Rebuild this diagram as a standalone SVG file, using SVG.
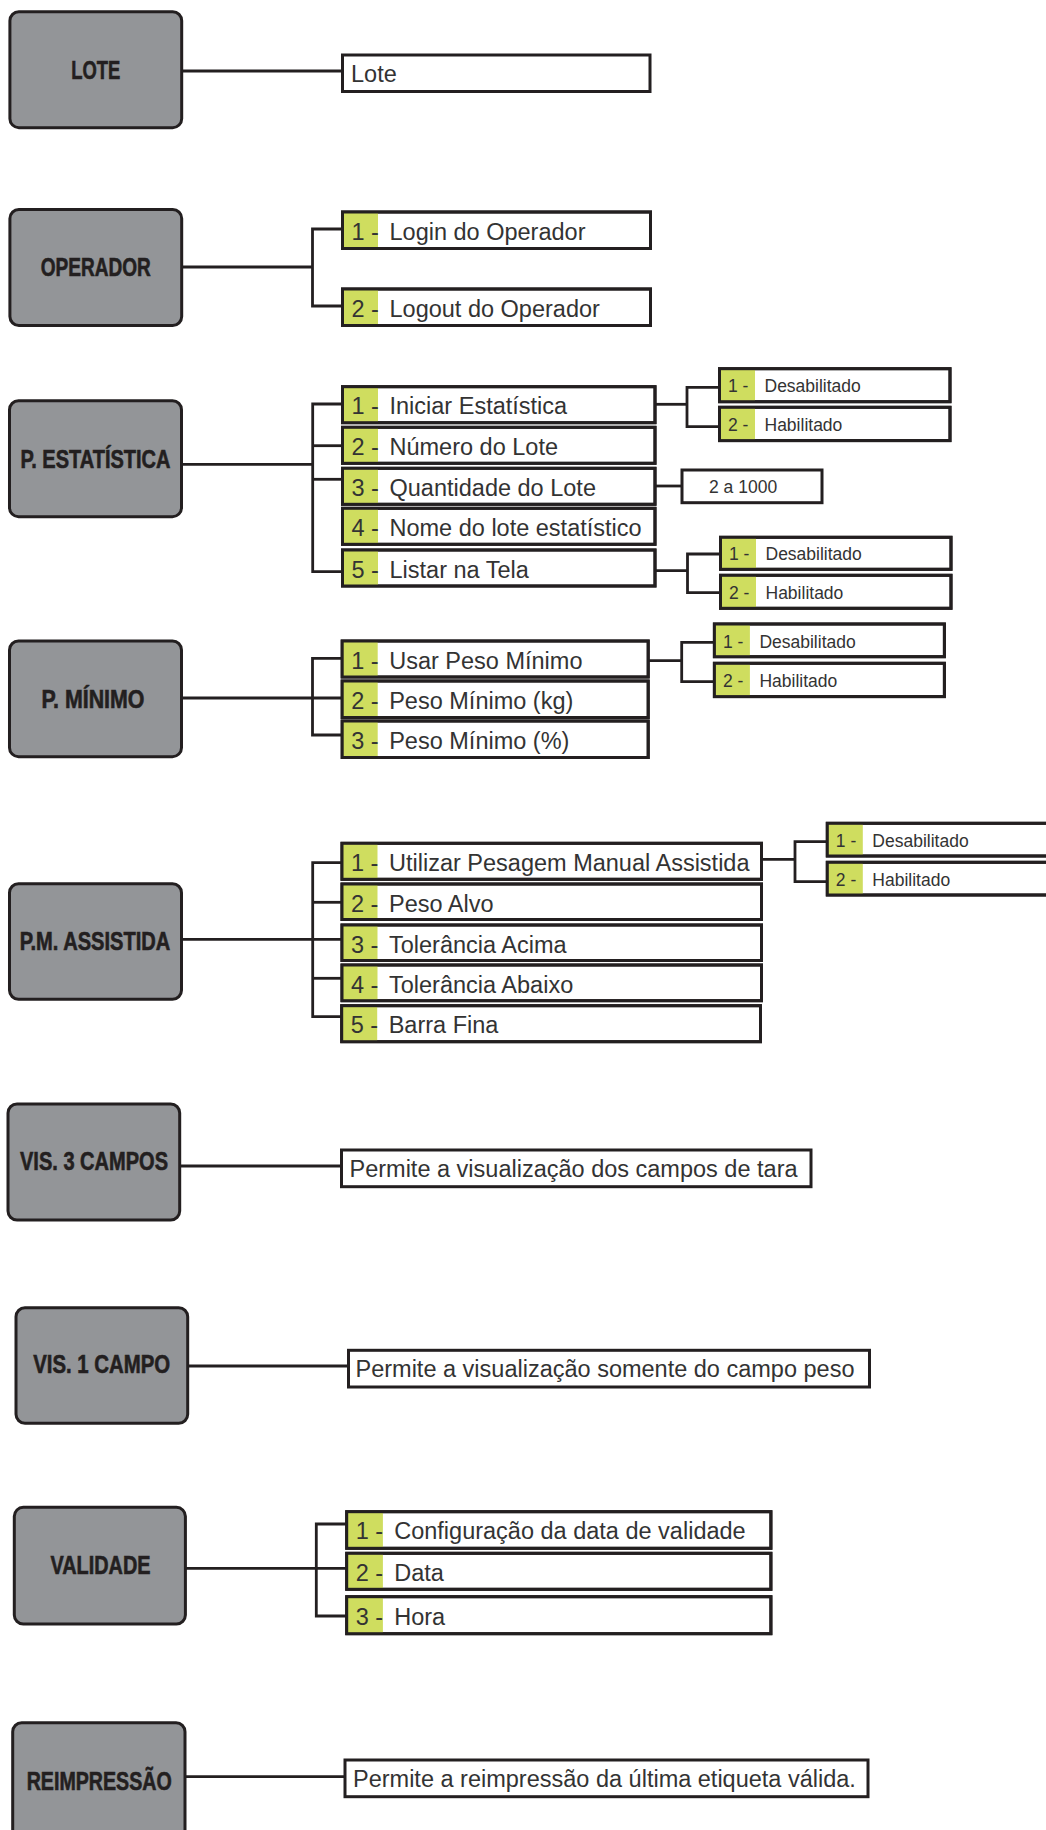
<svg xmlns="http://www.w3.org/2000/svg" width="1046" height="1830" viewBox="0 0 1046 1830">
  <style>
    .hub rect { fill: #939598; stroke: #231f20; stroke-width: 3; }
    .hub text { font-family: "Liberation Sans Narrow", "Liberation Sans", Arial, sans-serif; font-weight: bold; font-size: 25px; fill: #231f20; stroke: #231f20; stroke-width: 0.6; text-anchor: middle; }
    .box { fill: #ffffff; stroke: #231f20; stroke-width: 3; }
    .frame { fill: none; stroke: #231f20; stroke-width: 3; }
    .tag { fill: #cfdd5f; }
    .t { font-family: "Liberation Sans", Arial, sans-serif; font-size: 23.5px; fill: #333333; }
    .s { font-family: "Liberation Sans", Arial, sans-serif; font-size: 17.5px; fill: #333333; }
    .wires path { fill: none; stroke: #231f20; stroke-width: 2.8; }
  </style>

  <!-- connectors -->
  <g class="wires">
    <!-- LOTE -->
    <path d="M181.5 71 H342.5"/>
    <!-- OPERADOR -->
    <path d="M181.5 267 H312.5"/>
    <path d="M342.5 229 H312.5 V306 H342.5"/>
    <!-- P. ESTATISTICA -->
    <path d="M181.5 464.3 H312.7"/>
    <path d="M342.5 404 H312.7 V571.7 H342.5"/>
    <path d="M312.7 445.7 H342.5"/>
    <path d="M312.7 479.3 H342.5"/>
    <path d="M655 404.3 H687"/>
    <path d="M719.5 387.3 H687 V426.7 H719.5"/>
    <path d="M655 486 H682"/>
    <path d="M655 570.7 H687.5"/>
    <path d="M720.5 554 H687.5 V592.7 H720.5"/>
    <!-- P. MINIMO -->
    <path d="M181.5 698 H342.2"/>
    <path d="M342.2 658.3 H312.5 V735 H342.2"/>
    <path d="M648.3 660.7 H681.7"/>
    <path d="M714.4 642.3 H681.7 V681.7 H714.4"/>
    <!-- P.M. ASSISTIDA -->
    <path d="M181.5 939.3 H342"/>
    <path d="M342 862.7 H312.7 V1016.7 H342"/>
    <path d="M312.7 902.3 H342"/>
    <path d="M312.7 978.3 H342"/>
    <path d="M761.5 859.3 H795"/>
    <path d="M827.3 841.7 H795 V881.7 H827.3"/>
    <!-- VIS. 3 CAMPOS -->
    <path d="M179.7 1166 H341.5"/>
    <!-- VIS. 1 CAMPO -->
    <path d="M187.7 1366 H348.5"/>
    <!-- VALIDADE -->
    <path d="M185.4 1568.3 H346.7"/>
    <path d="M346.7 1524 H316.3 V1616 H346.7"/>
    <!-- REIMPRESSAO -->
    <path d="M185 1776.7 H345"/>
  </g>

  <!-- LOTE -->
  <g id="lote" class="hub">
    <rect x="9.9" y="11.7" width="171.8" height="116" rx="9"/>
    <text x="95.8" y="79" textLength="49" lengthAdjust="spacingAndGlyphs">LOTE</text>
  </g>
  <g id="lote-desc">
    <rect class="box" x="342.5" y="55" width="307.5" height="36.5"/>
    <text class="t" x="351" y="81.7">Lote</text>
  </g>

  <!-- OPERADOR -->
  <g id="operador" class="hub">
    <rect x="9.9" y="209.5" width="171.8" height="116" rx="9"/>
    <text x="95.8" y="276" textLength="110" lengthAdjust="spacingAndGlyphs">OPERADOR</text>
  </g>
  <g id="operador-1" transform="translate(342.5,212)">
    <rect class="box" width="308" height="36.5"/><rect class="tag" width="35.5" height="36.5"/><rect class="frame" width="308" height="36.5"/>
    <text class="t" x="9" y="27.5">1 -</text><text class="t" x="47" y="27.5">Login do Operador</text>
  </g>
  <g id="operador-2" transform="translate(342.5,289)">
    <rect class="box" width="308" height="36.5"/><rect class="tag" width="35.5" height="36.5"/><rect class="frame" width="308" height="36.5"/>
    <text class="t" x="9" y="27.5">2 -</text><text class="t" x="47" y="27.5">Logout do Operador</text>
  </g>

  <!-- P. ESTATISTICA -->
  <g id="p-estatistica" class="hub">
    <rect x="9.5" y="400.7" width="172" height="116" rx="9"/>
    <text x="95.5" y="468" textLength="150" lengthAdjust="spacingAndGlyphs">P. ESTATÍSTICA</text>
  </g>
  <g id="estat-1" transform="translate(342.5,386.7)">
    <rect class="box" width="312.5" height="36"/><rect class="tag" width="35.5" height="36"/><rect class="frame" width="312.5" height="36"/>
    <text class="t" x="9" y="27.5">1 -</text><text class="t" x="47" y="27.5">Iniciar Estatística</text>
  </g>
  <g id="estat-2" transform="translate(342.5,427.3)">
    <rect class="box" width="312.5" height="36"/><rect class="tag" width="35.5" height="36"/><rect class="frame" width="312.5" height="36"/>
    <text class="t" x="9" y="27.5">2 -</text><text class="t" x="47" y="27.5">Número do Lote</text>
  </g>
  <g id="estat-3" transform="translate(342.5,468.3)">
    <rect class="box" width="312.5" height="36"/><rect class="tag" width="35.5" height="36"/><rect class="frame" width="312.5" height="36"/>
    <text class="t" x="9" y="27.5">3 -</text><text class="t" x="47" y="27.5">Quantidade do Lote</text>
  </g>
  <g id="estat-4" transform="translate(342.5,508.3)">
    <rect class="box" width="312.5" height="36"/><rect class="tag" width="35.5" height="36"/><rect class="frame" width="312.5" height="36"/>
    <text class="t" x="9" y="27.5">4 -</text><text class="t" x="47" y="27.5">Nome do lote estatístico</text>
  </g>
  <g id="estat-5" transform="translate(342.5,550)">
    <rect class="box" width="312.5" height="36"/><rect class="tag" width="35.5" height="36"/><rect class="frame" width="312.5" height="36"/>
    <text class="t" x="9" y="27.5">5 -</text><text class="t" x="47" y="27.5">Listar na Tela</text>
  </g>
  <g id="estat-1-off" transform="translate(719.5,368.7)">
    <rect class="box" width="230.5" height="33"/><rect class="tag" width="35.5" height="33"/><rect class="frame" width="230.5" height="33"/>
    <text class="s" x="8.5" y="23.5">1 -</text><text class="s" x="45" y="23.5">Desabilitado</text>
  </g>
  <g id="estat-1-on" transform="translate(719.5,407.3)">
    <rect class="box" width="230.5" height="33.3"/><rect class="tag" width="35.5" height="33.3"/><rect class="frame" width="230.5" height="33.3"/>
    <text class="s" x="8.5" y="23.5">2 -</text><text class="s" x="45" y="23.5">Habilitado</text>
  </g>
  <g id="estat-3-range">
    <rect class="box" x="682" y="470" width="140" height="32.7"/>
    <text class="s" x="709" y="492.5">2 a 1000</text>
  </g>
  <g id="estat-5-off" transform="translate(720.5,537.3)">
    <rect class="box" width="230.5" height="32"/><rect class="tag" width="35.5" height="32"/><rect class="frame" width="230.5" height="32"/>
    <text class="s" x="8.5" y="23">1 -</text><text class="s" x="45" y="23">Desabilitado</text>
  </g>
  <g id="estat-5-on" transform="translate(720.5,575.3)">
    <rect class="box" width="230.5" height="33"/><rect class="tag" width="35.5" height="33"/><rect class="frame" width="230.5" height="33"/>
    <text class="s" x="8.5" y="23.5">2 -</text><text class="s" x="45" y="23.5">Habilitado</text>
  </g>

  <!-- P. MINIMO -->
  <g id="p-minimo" class="hub">
    <rect x="9.5" y="641" width="172" height="115.7" rx="9"/>
    <text x="93" y="707.5" textLength="103" lengthAdjust="spacingAndGlyphs">P. MÍNIMO</text>
  </g>
  <g id="minimo-1" transform="translate(342.2,641)">
    <rect class="box" width="306" height="36"/><rect class="tag" width="35.5" height="36"/><rect class="frame" width="306" height="36"/>
    <text class="t" x="9" y="27.5">1 -</text><text class="t" x="47" y="27.5">Usar Peso Mínimo</text>
  </g>
  <g id="minimo-2" transform="translate(342.2,681)">
    <rect class="box" width="306" height="36.5"/><rect class="tag" width="35.5" height="36.5"/><rect class="frame" width="306" height="36.5"/>
    <text class="t" x="9" y="27.5">2 -</text><text class="t" x="47" y="27.5">Peso Mínimo (kg)</text>
  </g>
  <g id="minimo-3" transform="translate(342.2,721)">
    <rect class="box" width="306" height="36.5"/><rect class="tag" width="35.5" height="36.5"/><rect class="frame" width="306" height="36.5"/>
    <text class="t" x="9" y="27.5">3 -</text><text class="t" x="47" y="27.5">Peso Mínimo (%)</text>
  </g>
  <g id="minimo-1-off" transform="translate(714.4,624)">
    <rect class="box" width="230" height="32.7"/><rect class="tag" width="35.5" height="32.7"/><rect class="frame" width="230" height="32.7"/>
    <text class="s" x="8.5" y="23.5">1 -</text><text class="s" x="45" y="23.5">Desabilitado</text>
  </g>
  <g id="minimo-1-on" transform="translate(714.4,663.3)">
    <rect class="box" width="230" height="33.3"/><rect class="tag" width="35.5" height="33.3"/><rect class="frame" width="230" height="33.3"/>
    <text class="s" x="8.5" y="23.5">2 -</text><text class="s" x="45" y="23.5">Habilitado</text>
  </g>

  <!-- P.M. ASSISTIDA -->
  <g id="pm-assistida" class="hub">
    <rect x="9.5" y="883.7" width="172" height="115.6" rx="9"/>
    <text x="95" y="949.5" textLength="150.6" lengthAdjust="spacingAndGlyphs">P.M. ASSISTIDA</text>
  </g>
  <g id="assistida-1" transform="translate(342,843.3)">
    <rect class="box" width="419.5" height="36"/><rect class="tag" width="35.5" height="36"/><rect class="frame" width="419.5" height="36"/>
    <text class="t" x="9" y="27.5">1 -</text><text class="t" x="47" y="27.5">Utilizar Pesagem Manual Assistida</text>
  </g>
  <g id="assistida-2" transform="translate(342,884)">
    <rect class="box" width="419.5" height="35.5"/><rect class="tag" width="35.5" height="35.5"/><rect class="frame" width="419.5" height="35.5"/>
    <text class="t" x="9" y="27.5">2 -</text><text class="t" x="47" y="27.5">Peso Alvo</text>
  </g>
  <g id="assistida-3" transform="translate(342,925)">
    <rect class="box" width="419.5" height="35.5"/><rect class="tag" width="35.5" height="35.5"/><rect class="frame" width="419.5" height="35.5"/>
    <text class="t" x="9" y="27.5">3 -</text><text class="t" x="47" y="27.5">Tolerância Acima</text>
  </g>
  <g id="assistida-4" transform="translate(342,965)">
    <rect class="box" width="419.5" height="35.7"/><rect class="tag" width="35.5" height="35.7"/><rect class="frame" width="419.5" height="35.7"/>
    <text class="t" x="9" y="27.5">4 -</text><text class="t" x="47" y="27.5">Tolerância Abaixo</text>
  </g>
  <g id="assistida-5" transform="translate(341.7,1005.7)">
    <rect class="box" width="418.8" height="36"/><rect class="tag" width="35.5" height="36"/><rect class="frame" width="418.8" height="36"/>
    <text class="t" x="9" y="27.5">5 -</text><text class="t" x="47" y="27.5">Barra Fina</text>
  </g>
  <g id="assistida-1-off" transform="translate(827.3,823.3)">
    <rect class="box" width="232" height="32.7"/><rect class="tag" width="35.5" height="32.7"/><rect class="frame" width="232" height="32.7"/>
    <text class="s" x="8.5" y="23.5">1 -</text><text class="s" x="45" y="23.5">Desabilitado</text>
  </g>
  <g id="assistida-1-on" transform="translate(827.3,862.3)">
    <rect class="box" width="232" height="32.7"/><rect class="tag" width="35.5" height="32.7"/><rect class="frame" width="232" height="32.7"/>
    <text class="s" x="8.5" y="23.5">2 -</text><text class="s" x="45" y="23.5">Habilitado</text>
  </g>

  <!-- VIS. 3 CAMPOS -->
  <g id="vis-3-campos" class="hub">
    <rect x="8" y="1104" width="171.7" height="116" rx="9"/>
    <text x="94" y="1170" textLength="148" lengthAdjust="spacingAndGlyphs">VIS. 3 CAMPOS</text>
  </g>
  <g id="vis-3-desc">
    <rect class="box" x="341.5" y="1150" width="469.5" height="36.7"/>
    <text class="t" x="349.5" y="1176.7">Permite a visualização dos campos de tara</text>
  </g>

  <!-- VIS. 1 CAMPO -->
  <g id="vis-1-campo" class="hub">
    <rect x="16" y="1307.7" width="171.7" height="115.6" rx="9"/>
    <text x="101.7" y="1373.3" textLength="137" lengthAdjust="spacingAndGlyphs">VIS. 1 CAMPO</text>
  </g>
  <g id="vis-1-desc">
    <rect class="box" x="348.5" y="1350.3" width="521" height="36.7"/>
    <text class="t" x="355.5" y="1377">Permite a visualização somente do campo peso</text>
  </g>

  <!-- VALIDADE -->
  <g id="validade" class="hub">
    <rect x="14.3" y="1507.3" width="171.1" height="116.7" rx="9"/>
    <text x="100.5" y="1574" textLength="100" lengthAdjust="spacingAndGlyphs">VALIDADE</text>
  </g>
  <g id="validade-1" transform="translate(346.7,1511.7)">
    <rect class="box" width="424.2" height="36.6"/><rect class="tag" width="36.2" height="36.6"/><rect class="frame" width="424.2" height="36.6"/>
    <text class="t" x="9" y="27.5">1 -</text><text class="t" x="47.5" y="27.5">Configuração da data de validade</text>
  </g>
  <g id="validade-2" transform="translate(346.7,1553.3)">
    <rect class="box" width="424.2" height="36"/><rect class="tag" width="36.2" height="36"/><rect class="frame" width="424.2" height="36"/>
    <text class="t" x="9" y="27.5">2 -</text><text class="t" x="47.5" y="27.5">Data</text>
  </g>
  <g id="validade-3" transform="translate(346.7,1596.7)">
    <rect class="box" width="424.2" height="37"/><rect class="tag" width="36.2" height="37"/><rect class="frame" width="424.2" height="37"/>
    <text class="t" x="9" y="28">3 -</text><text class="t" x="47.5" y="28">Hora</text>
  </g>

  <!-- REIMPRESSAO -->
  <g id="reimpressao" class="hub">
    <rect x="12.7" y="1722.7" width="172.3" height="116" rx="9"/>
    <text x="99.2" y="1790" textLength="145" lengthAdjust="spacingAndGlyphs">REIMPRESSÃO</text>
  </g>
  <g id="reimpressao-desc">
    <rect class="box" x="345" y="1760" width="523" height="36.7"/>
    <text class="t" x="353" y="1786.5">Permite a reimpressão da última etiqueta válida.</text>
  </g>
</svg>
